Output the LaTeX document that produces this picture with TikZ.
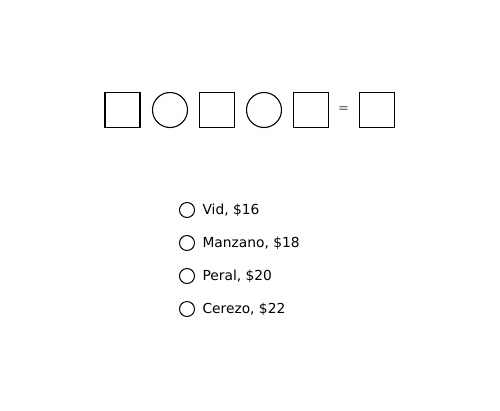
\documentclass[tikz,border=0pt]{standalone}
\usepackage{fontspec}
\setmainfont{DejaVu Sans}
\begin{document}
\begin{tikzpicture}[x=1pt, y=-1pt, line width=1.1pt,
    kasten/.style={draw, minimum size=35pt, inner sep=0pt},
    kreis/.style={draw, circle, minimum size=35pt, inner sep=0pt},
    wahl/.style={draw, circle, minimum size=15pt, inner sep=0pt, line width=1pt},
    antwort/.style={anchor=west, inner sep=0pt, font=\fontsize{13.8}{16}\selectfont}]

        \useasboundingbox (0,0) rectangle (500,410);

        % Obere Zeile
        \node[kasten] at (122.5,110) (k1) {};
        \node[kreis] at (170,110) (o1) {};
        \node[kasten] at (217,110) (k2) {};
        \node[kreis] at (264,110) (o2) {};
        \node[kasten] at (311,110) (k3) {};
        \node[font=\fontsize{13}{15}\selectfont, text=black!65] at (343.5,110) (gleich) {=};
        \node[kasten] at (377,110) (k4) {};

        % Antworten
        \node[wahl] at (187,210) (w1) {};
        \node[wahl] at (187,243) (w2) {};
        \node[wahl] at (187,276) (w3) {};
        \node[wahl] at (187,309) (w4) {};

        \node[antwort] at (202,210) (a1) {Vid, \$16};
        \node[antwort] at (202,243) (a2) {Manzano, \$18};
        \node[antwort] at (202,276) (a3) {Peral, \$20};
        \node[antwort] at (202,309) (a4) {Cerezo, \$22};

    \end{tikzpicture}
\end{document}
